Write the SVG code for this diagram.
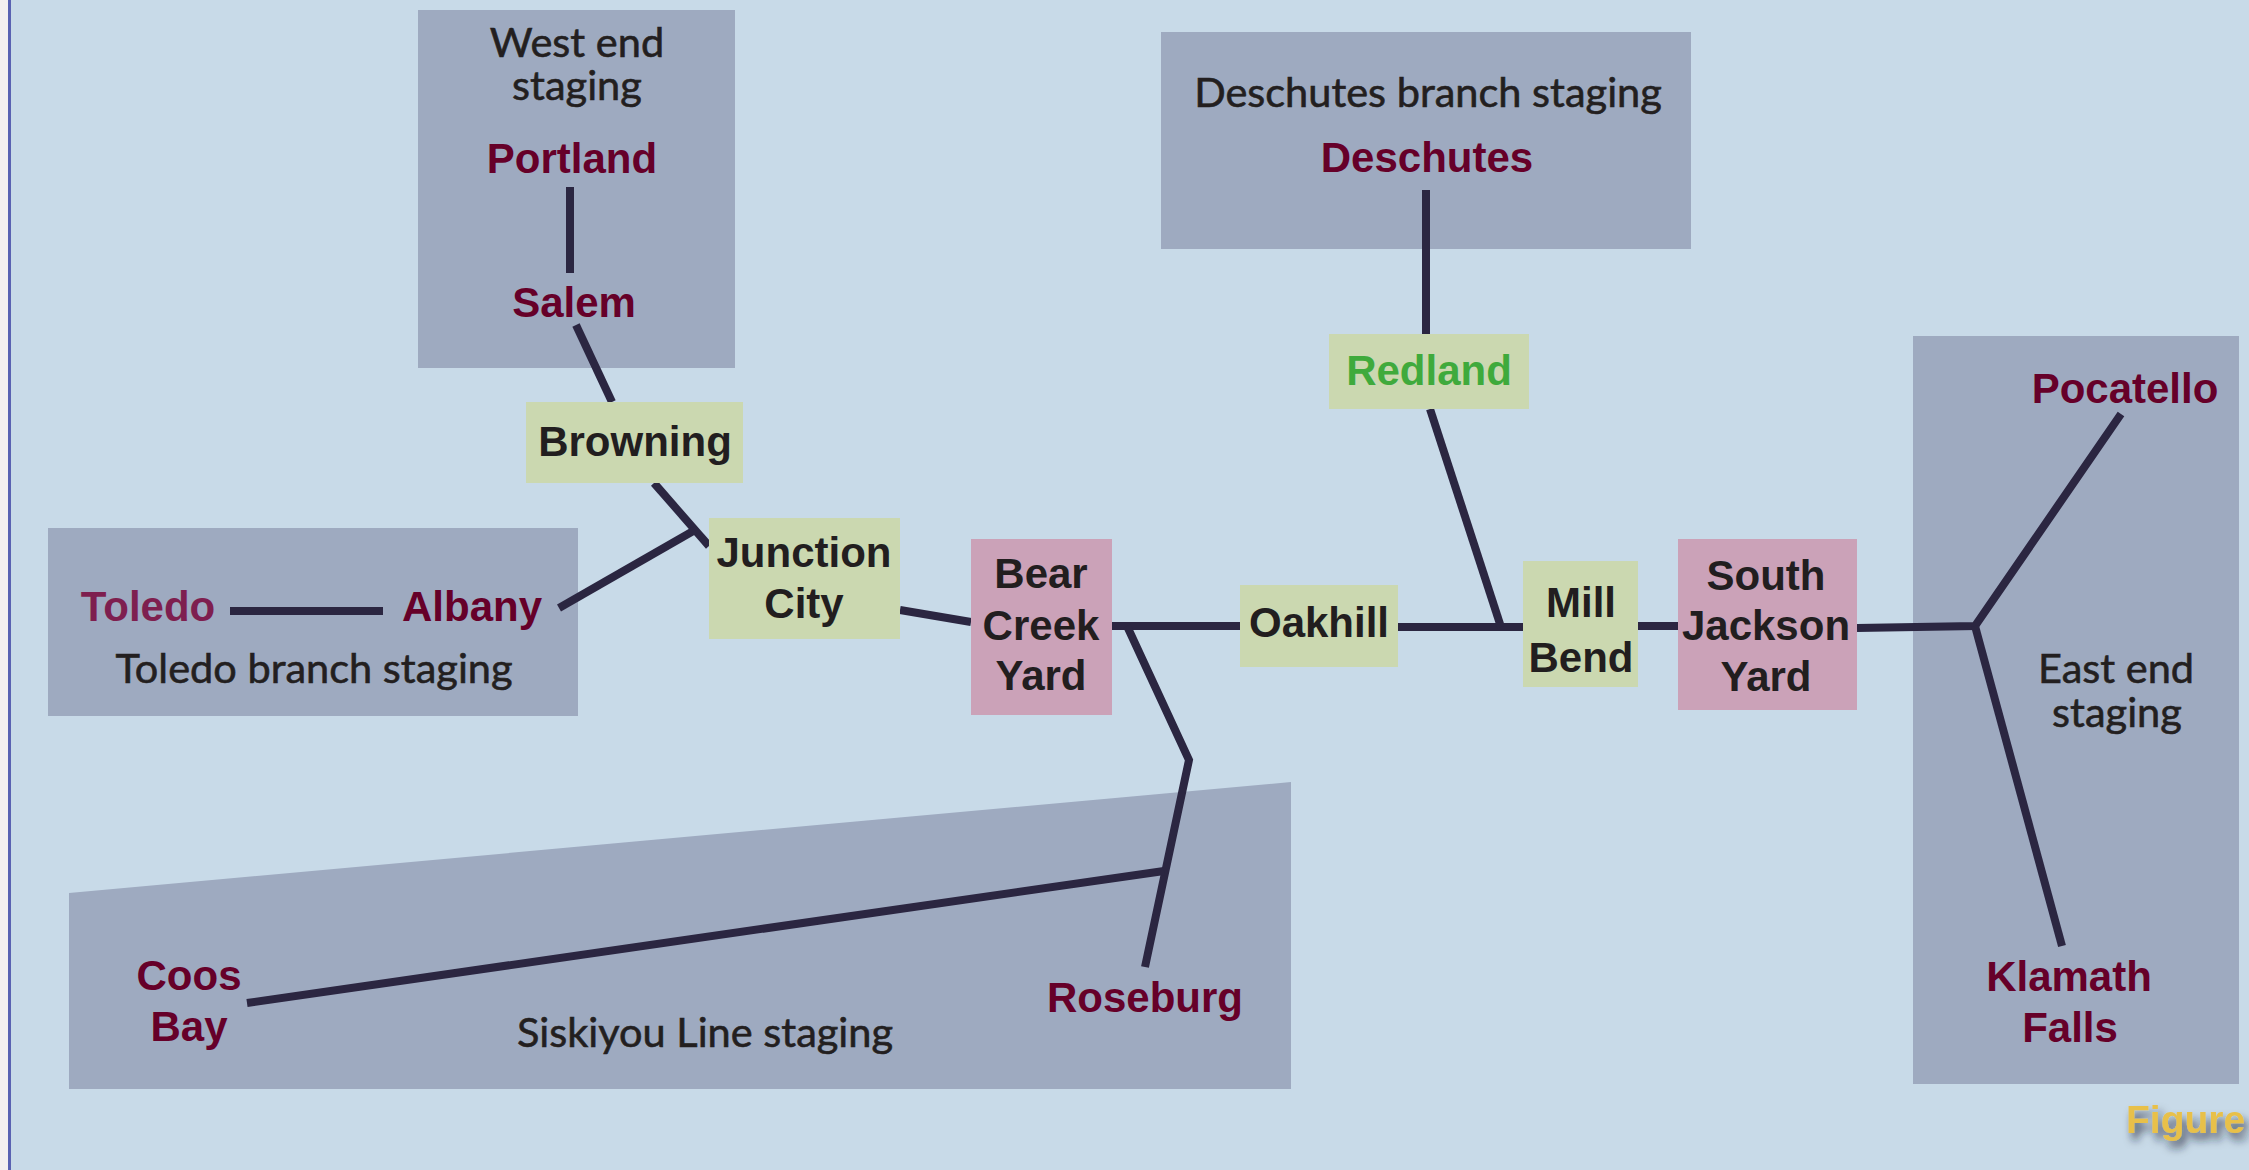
<svg xmlns="http://www.w3.org/2000/svg" width="2249" height="1170" viewBox="0 0 2249 1170">
<style>
.stg{fill:#9eaac0}
.grn{fill:#cbd8b0}
.pnk{fill:#cba2b8}
.ln{stroke:#2b2641;stroke-width:8;fill:none;stroke-linecap:butt;stroke-linejoin:miter}
.lbl{font-family:"Liberation Sans",Arial,sans-serif;font-weight:bold;font-size:42px;text-anchor:middle}
.st{fill:#660029}
.nd{fill:#221e1f}
.cap{font-family:Lato,"Open Sans",sans-serif;font-size:41.5px;fill:#231f20;stroke:#231f20;stroke-width:0.6;text-anchor:middle}
</style>
<defs>
<filter id="sh" x="-20%" y="-40%" width="150%" height="200%">
<feGaussianBlur in="SourceAlpha" stdDeviation="4"/>
<feOffset dx="4" dy="7" result="b"/>
<feFlood flood-color="#1a2030" flood-opacity="0.75"/>
<feComposite in2="b" operator="in"/>
<feMerge><feMergeNode/><feMergeNode in="SourceGraphic"/></feMerge>
</filter>
</defs>
<rect x="0" y="0" width="2249" height="1170" fill="#c8dae8"/>
<rect x="0" y="0" width="8" height="1170" fill="#f5f0f0"/>
<rect x="8" y="0" width="3" height="1170" fill="#5a62b2"/>

<g id="west-end-staging">
<rect class="stg" x="418" y="10" width="317" height="358"/>
<text class="cap" x="577" y="57">West end</text>
<text class="cap" x="577" y="100">staging</text>
</g>
<g id="toledo-branch-staging">
<rect class="stg" x="48" y="528" width="530" height="188"/>
<text class="cap" x="314" y="683">Toledo branch staging</text>
</g>
<g id="deschutes-branch-staging">
<rect class="stg" x="1161" y="32" width="530" height="217"/>
<text class="cap" x="1428" y="107">Deschutes branch staging</text>
</g>
<g id="siskiyou-line-staging">
<polygon class="stg" points="69,893 1291,782 1291,1089 69,1089"/>
<text class="cap" x="705" y="1047">Siskiyou Line staging</text>
</g>
<g id="east-end-staging">
<rect class="stg" x="1913" y="336" width="326" height="748"/>
<text class="cap" x="2116" y="683">East end</text>
<text class="cap" x="2117" y="727">staging</text>
</g>

<g id="connectors">
<line class="ln" x1="570" y1="187" x2="570" y2="273"/>
<line class="ln" x1="576" y1="325" x2="612" y2="402"/>
<line class="ln" x1="654" y1="483" x2="709" y2="546"/>
<line class="ln" x1="559" y1="608" x2="695" y2="530"/>
<line class="ln" x1="230" y1="611" x2="383" y2="611"/>
<line class="ln" x1="900" y1="610" x2="971" y2="622"/>
<line class="ln" x1="1112" y1="626" x2="1240" y2="626"/>
<polyline class="ln" points="1127,626 1189,760 1145,967"/>
<line class="ln" x1="247" y1="1003" x2="1164" y2="871"/>
<line class="ln" x1="1398" y1="627" x2="1523" y2="627"/>
<line class="ln" x1="1426" y1="190" x2="1426" y2="334"/>
<line class="ln" x1="1430" y1="409" x2="1501" y2="627"/>
<line class="ln" x1="1638" y1="626" x2="1678" y2="626"/>
<polyline class="ln" points="1857,628 1975,626 2121,414"/>
<line class="ln" x1="1975" y1="626" x2="2062" y2="946"/>
</g>

<g id="portland"><text class="lbl st" x="572" y="173">Portland</text></g>
<g id="salem"><text class="lbl st" x="574" y="317">Salem</text></g>
<g id="toledo"><text class="lbl" fill="#7e1f4f" x="148" y="621">Toledo</text></g>
<g id="albany"><text class="lbl st" x="472" y="621">Albany</text></g>
<g id="deschutes"><text class="lbl st" x="1427" y="172">Deschutes</text></g>
<g id="coos-bay"><text class="lbl st" x="189" y="990">Coos</text><text class="lbl st" x="189" y="1041">Bay</text></g>
<g id="roseburg"><text class="lbl st" x="1145" y="1012">Roseburg</text></g>
<g id="pocatello"><text class="lbl st" x="2125" y="403">Pocatello</text></g>
<g id="klamath-falls"><text class="lbl st" x="2069" y="991">Klamath</text><text class="lbl st" x="2070" y="1042">Falls</text></g>

<g id="browning">
<rect class="grn" x="526" y="402" width="217" height="81"/>
<text class="lbl nd" x="635" y="456">Browning</text>
</g>
<g id="junction-city">
<rect class="grn" x="709" y="518" width="191" height="121"/>
<text class="lbl nd" x="804" y="567">Junction</text>
<text class="lbl nd" x="804" y="618">City</text>
</g>
<g id="bear-creek-yard">
<rect class="pnk" x="971" y="539" width="141" height="176"/>
<text class="lbl nd" x="1041" y="588">Bear</text>
<text class="lbl nd" x="1041" y="640">Creek</text>
<text class="lbl nd" x="1041" y="690">Yard</text>
</g>
<g id="oakhill">
<rect class="grn" x="1240" y="585" width="158" height="82"/>
<text class="lbl nd" x="1319" y="637">Oakhill</text>
</g>
<g id="redland">
<rect class="grn" x="1329" y="334" width="200" height="75"/>
<text class="lbl" fill="#3faa3c" x="1429" y="385">Redland</text>
</g>
<g id="mill-bend">
<rect class="grn" x="1523" y="561" width="115" height="126"/>
<text class="lbl nd" x="1581" y="617">Mill</text>
<text class="lbl nd" x="1581" y="672">Bend</text>
</g>
<g id="south-jackson-yard">
<rect class="pnk" x="1678" y="539" width="179" height="171"/>
<text class="lbl nd" x="1766" y="590">South</text>
<text class="lbl nd" x="1766" y="640">Jackson</text>
<text class="lbl nd" x="1766" y="691">Yard</text>
</g>

<text x="2126" y="1133" font-family="'Liberation Sans',Arial,sans-serif" font-weight="bold" font-size="39" fill="#e8c04a" filter="url(#sh)">Figure</text>
</svg>
